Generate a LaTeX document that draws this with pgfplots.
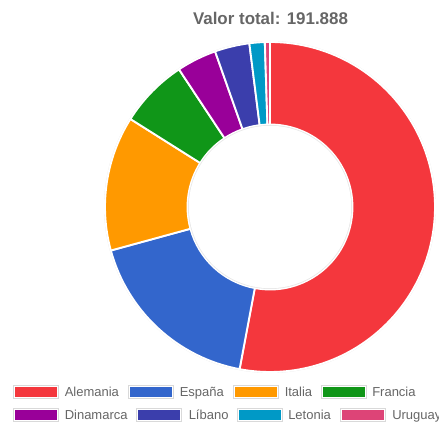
\documentclass[border=0pt]{standalone}
\usepackage{pgfplots}
\pgfplotsset{compat=1.18}
\usepackage{pgfplotstable}
\usepackage{fontspec}
\setmainfont{Liberation Sans}
\definecolor{c0}{HTML}{F4373D}
\definecolor{c1}{HTML}{3366CC}
\definecolor{c2}{HTML}{FF9900}
\definecolor{c3}{HTML}{109618}
\definecolor{c4}{HTML}{990099}
\definecolor{c5}{HTML}{3B3EAC}
\definecolor{c6}{HTML}{0099C6}
\definecolor{c7}{HTML}{DD4477}
\definecolor{txt}{HTML}{666666}
\pgfplotstableread{
pais valor
Alemania 101606
España 34156
Italia 25329
Francia 12952
Dinamarca 7484
Líbano 6524
Letonia 2878
Uruguay 959
}\datos
\begin{document}
\begin{tikzpicture}[x=0.75pt,y=0.75pt]
\useasboundingbox (0,0) rectangle (439,423);
\clip (0,0) rectangle (439,423);
% totals and angles
\gdef\tot{0}
\foreach \i in {0,...,7}{%
  \pgfplotstablegetelem{\i}{valor}\of\datos
  \xdef\tot{\fpeval{\tot+\pgfplotsretval}}%
}
\gdef\cum{0}
\foreach \i in {0,...,7}{%
  \pgfplotstablegetelem{\i}{valor}\of\datos
  \let\v\pgfplotsretval
  \expandafter\xdef\csname aS\i\endcsname{\fpeval{90-360*\cum/\tot}}%
  \xdef\cum{\fpeval{\cum+\v}}%
  \expandafter\xdef\csname aE\i\endcsname{\fpeval{90-360*\cum/\tot}}%
}
\begin{axis}[hide axis, scale only axis, width=247.5pt, height=247.5pt,
  xmin=-165, xmax=165, ymin=-165, ymax=165, anchor=center, at={(270,216)},
  clip=false]
\fill[gray!18] (0,0) circle[radius=124.5pt];
\pgfplotsinvokeforeach{0,...,7}{%
  \fill[c#1, draw=white, line width=1.4pt, line join=round]
    ({165*cos(\csname aS#1\endcsname)},{165*sin(\csname aS#1\endcsname)})
    arc[start angle=\csname aS#1\endcsname, end angle=\csname aE#1\endcsname, radius=123.75pt]
    -- ({82.5*cos(\csname aE#1\endcsname)},{82.5*sin(\csname aE#1\endcsname)})
    arc[start angle=\csname aE#1\endcsname, end angle=\csname aS#1\endcsname, radius=61.875pt]
    -- cycle;
}
\fill[gray!18] (0,0) circle[radius=61.5pt];
\fill[white] (0,0) circle[radius=60.9pt];
\end{axis}
% title
\node[font=\fontsize{12.7pt}{14pt}\selectfont\bfseries, text=txt, inner sep=0] at (270.5,404.5) {Valor total: 191.888};
% legend
\newcommand\legbox[5]{% color, outer left, box y bottom, text x, label
  \draw[gray!30, line width=0.4pt] (#2,#3) rectangle (#2+45,#3+13);
  \fill[#1] (#2+1.5,#3+1.5) rectangle (#2+43.5,#3+11.5);
  \node[anchor=base west, inner sep=0, text=txt, font=\fontsize{9.75pt}{11pt}\selectfont] at (#4,#3+2.3) {#5};
}
\legbox{c0}{13.5}{24.5}{64.5}{Alemania}
\legbox{c1}{128.5}{24.5}{179.5}{España}
\legbox{c2}{233.5}{24.5}{284.5}{Italia}
\legbox{c3}{321.5}{24.5}{372}{Francia}
\legbox{c4}{13.5}{1.5}{64.5}{Dinamarca}
\legbox{c5}{136.5}{1.5}{188.5}{Líbano}
\legbox{c6}{237.5}{1.5}{288}{Letonia}
\legbox{c7}{340.5}{1.5}{392}{Uruguay}
\end{tikzpicture}
\end{document}
